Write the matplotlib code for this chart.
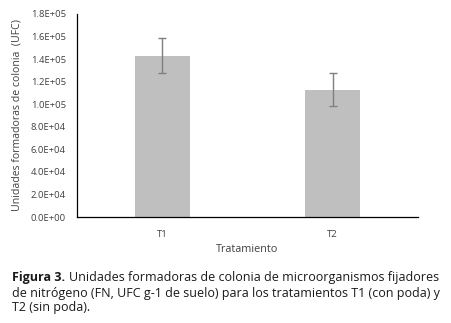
import numpy as np
import matplotlib
matplotlib.use("Agg")
from matplotlib import pyplot as plt
from matplotlib.ticker import FuncFormatter

tratamientos = ["T1", "T2"]
ufc = [143000, 113000]
error = [15500, 15000]
y_ticks = [0, 20000, 40000, 60000, 80000, 100000, 120000, 140000, 160000, 180000]

plt.rcParams['font.family'] = ['Open Sans', 'DejaVu Sans']

fig = plt.figure(figsize=(4.51, 3.23), dpi=100)
ax = fig.add_axes([0.1707, 0.328, 0.7561, 0.6287])

x = np.arange(len(tratamientos))
ax.bar(x, ufc, width=0.32, color="#bfbfbf", zorder=2)
ax.errorbar(x, ufc, yerr=error, fmt="none", ecolor="#7f7f7f",
            elinewidth=1, capsize=3, capthick=1, zorder=3)

ax.set_xlim(-0.5, 1.5)
ax.set_ylim(0, 180000)
ax.set_yticks(y_ticks)
ax.yaxis.set_major_formatter(FuncFormatter(lambda v, p: f"{v:.1E}"))
ax.set_xticks(x)
ax.set_xticklabels(tratamientos)
ax.tick_params(axis="both", length=0, labelsize=6.8, colors="#404040")
ax.tick_params(axis="x", pad=9)
ax.tick_params(axis="y", pad=8)

for s in ["top", "right"]:
    ax.spines[s].set_visible(False)
ax.spines["left"].set_linewidth(0.9)
ax.spines["bottom"].set_linewidth(0.9)

ax.set_xlabel("Tratamiento", fontsize=7.8, color="#404040", labelpad=4)
ax.set_ylabel("Unidades formadoras de colonia  (UFC)", fontsize=7.6, color="#404040", labelpad=6)

# caption
cap_size = 9.0
fig.canvas.draw()
r = fig.canvas.get_renderer()
t = fig.text(12 / 451, 1 - 278 / 323, "Figura 3.", fontsize=cap_size, fontweight="bold",
             va="center", color="#1a1a1a")
bb = t.get_window_extent(renderer=r)
fig.text((bb.x1 + 4) / 451, 1 - 278 / 323,
         "Unidades formadoras de colonia de microorganismos fijadores",
         fontsize=cap_size, va="center", color="#1a1a1a")
fig.text(12 / 451, 1 - 293 / 323,
         "de nitrógeno (FN, UFC g-1 de suelo) para los tratamientos T1 (con poda) y",
         fontsize=cap_size, va="center", color="#1a1a1a")
fig.text(12 / 451, 1 - 307 / 323, "T2 (sin poda).",
         fontsize=cap_size, va="center", color="#1a1a1a")

fig.savefig("out.png", dpi=100)
